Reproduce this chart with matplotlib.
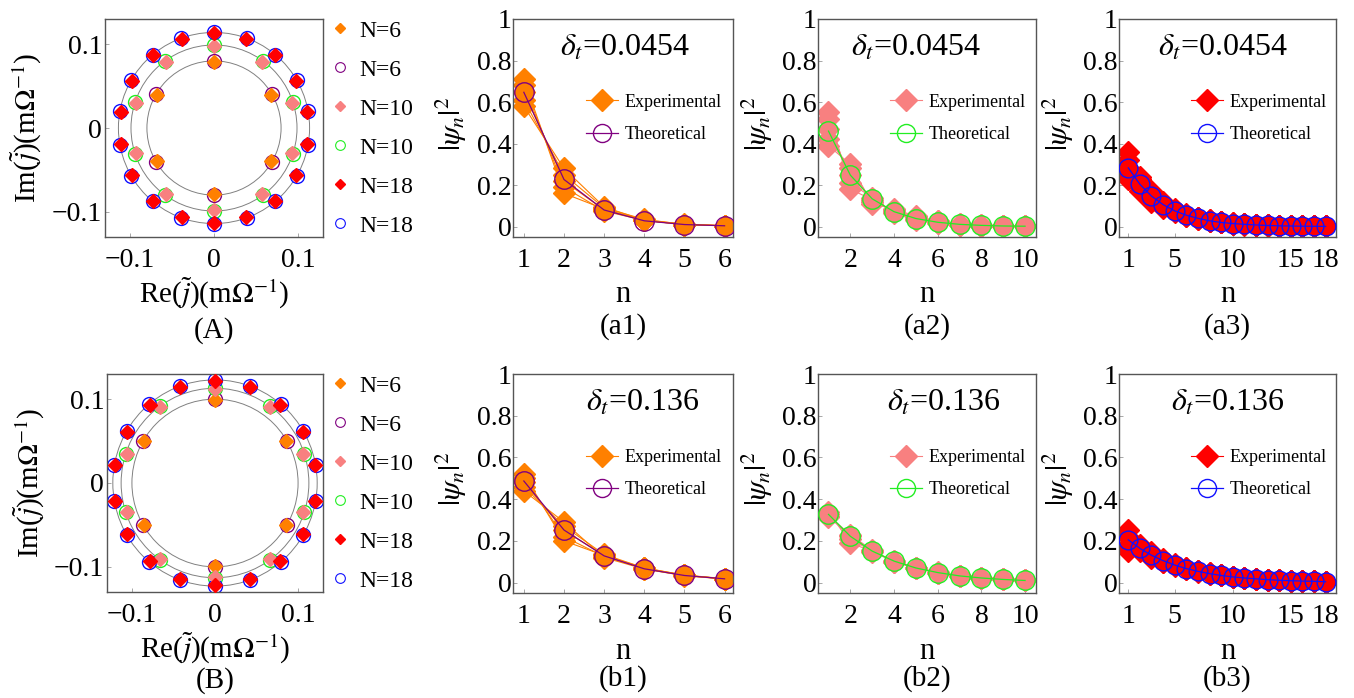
import numpy as np
import matplotlib
matplotlib.use("Agg")
import matplotlib.pyplot as plt
from matplotlib.lines import Line2D
from matplotlib.patches import Circle

plt.rcParams['font.family'] = ['Liberation Serif', 'DejaVu Serif']
plt.rcParams['mathtext.fontset'] = 'stix'

# ---- colours (Mathematica-like) ----
c_orange = '#FF8000'
c_purple = '#800080'
c_pink = '#F88080'
c_green = '#22EE22'
c_red = '#FF0000'
c_blue = '#1010FF'

# ---- eigenvalue spectra (polar: angle in degrees, radius in mOhm^-1) ----
ang6 = [90, 30, -30, -90, -150, 150]
ang10 = [90, 54, 18, -18, -54, -90, -126, -162, 162, 126]
ang18 = [90, 70, 50, 30, 10, -10, -30, -50, -70, -90, -110, -130, -150, -170, 170, 150, 130, 110]
radA_theo = [0.080, 0.099, 0.114]
radA_exp = [0.079, 0.098, 0.113]
radB_theo = [0.100, 0.113, 0.123]
radB_exp = [0.099, 0.112, 0.122]

# ---- |psi_n|^2 distributions ----
n6 = [1, 2, 3, 4, 5, 6]
n10 = [1, 2, 3, 4, 5, 6, 7, 8, 9, 10]
n18 = [1, 2, 3, 4, 5, 6, 7, 8, 9, 10, 11, 12, 13, 14, 15, 16, 17, 18]

# delta_t = 0.0454
a1_theo = [0.647, 0.227, 0.080, 0.028, 0.010, 0.004]
a1_exp = [
    [0.71, 0.16, 0.085, 0.030, 0.010, 0.004],
    [0.68, 0.19, 0.075, 0.030, 0.010, 0.004],
    [0.65, 0.22, 0.080, 0.032, 0.012, 0.005],
    [0.61, 0.25, 0.090, 0.035, 0.010, 0.004],
    [0.58, 0.28, 0.095, 0.030, 0.010, 0.004],
]
a2_theo = [0.460, 0.248, 0.134, 0.072, 0.039, 0.021, 0.011, 0.006, 0.003, 0.002]
a2_exp = [
    [0.55, 0.18, 0.13, 0.070, 0.035, 0.018, 0.010, 0.005, 0.003, 0.002],
    [0.52, 0.21, 0.14, 0.065, 0.030, 0.018, 0.009, 0.004, 0.002, 0.002],
    [0.47, 0.25, 0.13, 0.075, 0.038, 0.020, 0.010, 0.005, 0.003, 0.002],
    [0.42, 0.28, 0.12, 0.080, 0.045, 0.025, 0.012, 0.006, 0.003, 0.002],
    [0.39, 0.30, 0.11, 0.085, 0.050, 0.028, 0.014, 0.007, 0.004, 0.002],
]
a3_theo = [0.283, 0.204, 0.147, 0.106, 0.076, 0.055, 0.040, 0.028, 0.020,
           0.015, 0.011, 0.008, 0.0055, 0.004, 0.003, 0.002, 0.0015, 0.001]
a3_exp = [
    [0.36, 0.17, 0.12, 0.09, 0.070, 0.050, 0.037, 0.027, 0.020, 0.014, 0.010, 0.008, 0.006, 0.004, 0.003, 0.002, 0.002, 0.001],
    [0.32, 0.19, 0.14, 0.10, 0.075, 0.053, 0.039, 0.028, 0.020, 0.015, 0.011, 0.008, 0.006, 0.004, 0.003, 0.002, 0.001, 0.001],
    [0.28, 0.21, 0.15, 0.11, 0.078, 0.056, 0.040, 0.029, 0.021, 0.015, 0.011, 0.008, 0.005, 0.004, 0.003, 0.002, 0.001, 0.001],
    [0.25, 0.23, 0.16, 0.11, 0.080, 0.058, 0.042, 0.030, 0.021, 0.016, 0.011, 0.008, 0.006, 0.004, 0.003, 0.002, 0.002, 0.001],
    [0.23, 0.24, 0.17, 0.12, 0.085, 0.060, 0.043, 0.030, 0.022, 0.016, 0.012, 0.008, 0.006, 0.004, 0.003, 0.002, 0.001, 0.001],
]

# delta_t = 0.136
b1_theo = [0.487, 0.252, 0.128, 0.066, 0.034, 0.018]
b1_exp = [
    [0.52, 0.20, 0.130, 0.070, 0.035, 0.018],
    [0.50, 0.22, 0.125, 0.068, 0.035, 0.018],
    [0.48, 0.25, 0.130, 0.066, 0.034, 0.018],
    [0.46, 0.27, 0.135, 0.070, 0.036, 0.019],
    [0.44, 0.29, 0.120, 0.065, 0.033, 0.017],
]
b2_theo = [0.327, 0.222, 0.151, 0.103, 0.070, 0.048, 0.032, 0.022, 0.015, 0.010]
b2_exp = [
    [0.340, 0.19, 0.150, 0.105, 0.072, 0.048, 0.033, 0.022, 0.015, 0.010],
    [0.330, 0.21, 0.150, 0.100, 0.070, 0.048, 0.032, 0.022, 0.015, 0.010],
    [0.320, 0.23, 0.155, 0.100, 0.068, 0.047, 0.032, 0.022, 0.015, 0.010],
    [0.315, 0.225, 0.145, 0.105, 0.072, 0.050, 0.033, 0.022, 0.015, 0.010],
]
b3_theo = [0.205, 0.164, 0.131, 0.105, 0.084, 0.067, 0.054, 0.043, 0.034,
           0.027, 0.022, 0.018, 0.014, 0.011, 0.009, 0.007, 0.006, 0.004]
b3_exp = [
    [0.25, 0.15, 0.120, 0.100, 0.080, 0.065, 0.053, 0.043, 0.034, 0.027, 0.022, 0.018, 0.014, 0.011, 0.009, 0.007, 0.006, 0.004],
    [0.22, 0.16, 0.130, 0.100, 0.082, 0.066, 0.054, 0.043, 0.034, 0.027, 0.022, 0.018, 0.014, 0.011, 0.009, 0.007, 0.006, 0.004],
    [0.18, 0.17, 0.140, 0.110, 0.086, 0.068, 0.055, 0.044, 0.035, 0.028, 0.022, 0.018, 0.014, 0.011, 0.009, 0.007, 0.006, 0.004],
    [0.15, 0.18, 0.145, 0.115, 0.090, 0.070, 0.056, 0.044, 0.035, 0.028, 0.022, 0.018, 0.014, 0.011, 0.009, 0.007, 0.006, 0.004],
]

W, H = 1354, 698
fig = plt.figure(figsize=(W / 100, H / 100), dpi=100)


def px_axes(x0, y0, x1, y1):
    return fig.add_axes([x0 / W, 1 - y1 / H, (x1 - x0) / W, (y1 - y0) / H])


def style_frame(ax):
    for s in ax.spines.values():
        s.set_color('#555555')
        s.set_linewidth(1.0)
    ax.tick_params(direction='in', length=3, width=0.6, color='#999999',
                   labelsize=20, top=False, right=False)


def spectrum_panel(ax, rad_theo, rad_exp, tag, tag_y):
    style_frame(ax)
    ax.tick_params(axis='x', pad=8)
    ax.tick_params(axis='y', pad=2)
    for r in rad_theo:
        ax.add_patch(Circle((0, 0), r, fill=False, ec='#808080', lw=0.7, zorder=1))
    groups = [(ang6, 0, c_orange, c_purple), (ang10, 1, c_pink, c_green),
              (ang18, 2, c_red, c_blue)]
    for ang, k, ce, ct in groups:
        a = np.radians(ang)
        ax.plot(rad_theo[k] * np.cos(a), rad_theo[k] * np.sin(a), 'o', ms=10,
                mfc='white', mec=ct, mew=1.0, ls='none', zorder=2)
        ax.plot(rad_exp[k] * np.cos(a), rad_exp[k] * np.sin(a), 'D', ms=6.8,
                color=ce, ls='none', zorder=3)
    ax.set_xlim(-0.13, 0.13)
    ax.set_ylim(-0.13, 0.13)
    ax.set_xticks([-0.1, 0, 0.1])
    ax.set_xticklabels(['\u22120.1', '0', '0.1'])
    ax.set_yticks([-0.1, 0, 0.1])
    ax.set_yticklabels(['\u22120.1', '0', '0.1'])
    ax.text(-0.36, 0.5, r'Im($\tilde{j}$)(m$\Omega^{-1}$)', transform=ax.transAxes,
            rotation=90, ha='center', va='center', fontsize=21)
    ax.text(0.5, -0.26, r'Re($\tilde{j}$)(m$\Omega^{-1}$)', transform=ax.transAxes,
            ha='center', va='center', fontsize=21)
    ax.text(0.5, tag_y, tag, transform=ax.transAxes, ha='center', va='center',
            fontsize=21)
    handles = [
        Line2D([], [], marker='D', ms=5, color=c_orange, ls='none'),
        Line2D([], [], marker='o', ms=7, mfc='white', mec=c_purple, mew=0.8, ls='none'),
        Line2D([], [], marker='D', ms=5, color=c_pink, ls='none'),
        Line2D([], [], marker='o', ms=7, mfc='white', mec=c_green, mew=0.8, ls='none'),
        Line2D([], [], marker='D', ms=5, color=c_red, ls='none'),
        Line2D([], [], marker='o', ms=7, mfc='white', mec=c_blue, mew=0.8, ls='none'),
    ]
    labels = ['N=6', 'N=6', 'N=10', 'N=10', 'N=18', 'N=18']
    ax.legend(handles, labels, loc='upper left', bbox_to_anchor=(1.03, 0.995),
              frameon=False, fontsize=17, handlelength=0.85, handletextpad=0.4,
              labelspacing=0.74, borderpad=0, borderaxespad=0)


def dist_panel(ax, n, theo, exp_rows, ce, ct, xlim, xticks, delta, dx, tag, tag_y):
    style_frame(ax)
    ax.tick_params(axis='x', pad=8)
    ax.tick_params(axis='y', pad=1)
    big = len(n) > 10
    ms_d = 11 if not big else 11.5
    ms_o = 14 if not big else 13.5
    for row in exp_rows:
        ax.plot(n, row, '-', color=ce, lw=0.8, marker='D', ms=ms_d, zorder=2)
    ax.plot(n, theo, '-', color=ct, lw=0.9, marker='o', ms=ms_o, mfc='none',
            mec=ct, mew=1.0, zorder=3)
    ax.set_xlim(*xlim)
    ax.set_ylim(-0.05, 1.0)
    ax.set_xticks(xticks)
    ax.set_yticks([0, 0.2, 0.4, 0.6, 0.8, 1.0])
    ax.set_yticklabels(['0', '0.2', '0.4', '0.6', '0.8', '1'])
    ax.text(dx, 0.865, r'$\delta_t$=' + delta, transform=ax.transAxes,
            ha='center', va='center', fontsize=23)
    ax.text(-0.28, 0.52, r'$|\psi_n|^2$', transform=ax.transAxes, rotation=90,
            ha='center', va='center', fontsize=22)
    ax.text(0.5, -0.265, 'n', transform=ax.transAxes, ha='center', va='center',
            fontsize=22)
    ax.text(0.5, tag_y, tag, transform=ax.transAxes, ha='center', va='center',
            fontsize=21)
    handles = [
        Line2D([], [], color=ce, lw=0.8, marker='D', ms=11),
        Line2D([], [], color=ct, lw=0.9, marker='o', ms=13, mfc='none', mec=ct, mew=1.0),
    ]
    ax.legend(handles, ['Experimental', 'Theoretical'], loc='upper left',
              bbox_to_anchor=(0.33, 0.657), frameon=False, fontsize=13,
              handlelength=1.8, handletextpad=0.35, labelspacing=0.85,
              borderpad=0, borderaxespad=0)


axA = px_axes(105, 19, 323, 237)
spectrum_panel(axA, radA_theo, radA_exp, '(A)', -0.43)
axB = px_axes(107, 374, 323, 592)
spectrum_panel(axB, radB_theo, radB_exp, '(B)', -0.405)

ax = px_axes(513, 19, 733, 237)
dist_panel(ax, n6, a1_theo, a1_exp, c_orange, c_purple, (0.73, 6.21),
           [1, 2, 3, 4, 5, 6], '0.0454', 0.51, '(a1)', -0.41)
ax = px_axes(818, 19, 1036, 237)
dist_panel(ax, n10, a2_theo, a2_exp, c_pink, c_green, (0.52, 10.5),
           [2, 4, 6, 8, 10], '0.0454', 0.45, '(a2)', -0.41)
ax = px_axes(1119, 19, 1336, 237)
dist_panel(ax, n18, a3_theo, a3_exp, c_red, c_blue, (0.2, 18.9),
           [1, 5, 10, 15, 18], '0.0454', 0.48, '(a3)', -0.41)

ax = px_axes(513, 374, 733, 593)
dist_panel(ax, n6, b1_theo, b1_exp, c_orange, c_purple, (0.73, 6.21),
           [1, 2, 3, 4, 5, 6], '0.136', 0.59, '(b1)', -0.39)
ax = px_axes(818, 374, 1036, 593)
dist_panel(ax, n10, b2_theo, b2_exp, c_pink, c_green, (0.52, 10.5),
           [2, 4, 6, 8, 10], '0.136', 0.575, '(b2)', -0.39)
ax = px_axes(1119, 374, 1336, 593)
dist_panel(ax, n18, b3_theo, b3_exp, c_red, c_blue, (0.2, 18.9),
           [1, 5, 10, 15, 18], '0.136', 0.50, '(b3)', -0.39)

fig.savefig('out.png', dpi=100)
